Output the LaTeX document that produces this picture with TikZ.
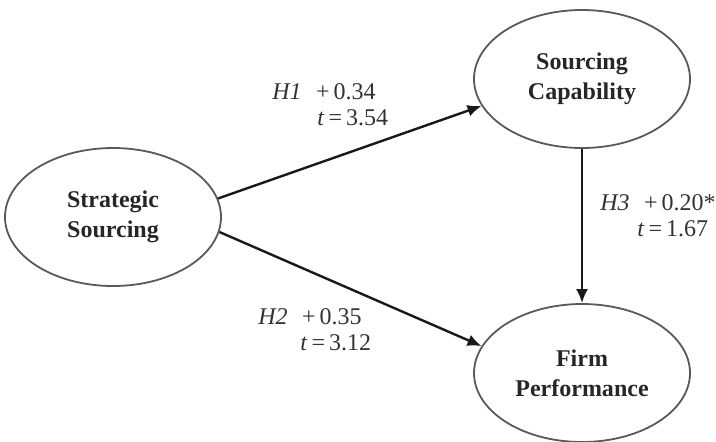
\documentclass[tikz,border=0pt]{standalone}
\usepackage{fontspec}
\setmainfont{Liberation Serif}
\usetikzlibrary{arrows.meta,positioning,shapes.geometric}

\tikzset{
  construct/.style={ellipse,draw=black!65,line width=0.9pt,minimum width=108pt,
    minimum height=69pt,inner sep=0pt,align=center,text=black!85,
    font=\fontsize{12}{15}\selectfont\bfseries},
  path/.style={->,line width=1.2pt,black!90},
  coef/.style={anchor=west,inner sep=0pt,text=black!80}
}

\begin{document}
\begin{tikzpicture}[x=0.5pt,y=-0.5pt,font=\fontsize{12}{15}\selectfont,>={Latex[length=7pt,width=6pt]}]
  \useasboundingbox (0,0) rectangle (716,441);
  % latent constructs
  \node[construct] (strat) at (113,217) {Strategic\\Sourcing};
  \node[construct] (capab) at (582,79) {Sourcing\\Capability};
  \node[construct] (perf) at (582,373) {Firm\\Performance};
  % structural paths
  \draw[path] (strat.10) -- (capab.195);
  \draw[path] (strat.-8) -- (perf.165);
  \draw[path] (capab.south) -- (perf.north);
  % path coefficients
  \node[coef] (h1c) at (272,92) {\textit{H1}\hspace{0.6em}+\,0.34};
  \node[coef] (h1t) at (317,118) {\textit{t}\,=\,3.54};
  \node[coef] (h2c) at (258,317) {\textit{H2}\hspace{0.6em}+\,0.35};
  \node[coef] (h2t) at (300,343) {\textit{t}\,=\,3.12};
  \node[coef] (h3c) at (600,203) {\textit{H3}\hspace{0.6em}+\,0.20*};
  \node[coef] (h3t) at (637,229) {\textit{t}\,=\,1.67};
\end{tikzpicture}
\end{document}
